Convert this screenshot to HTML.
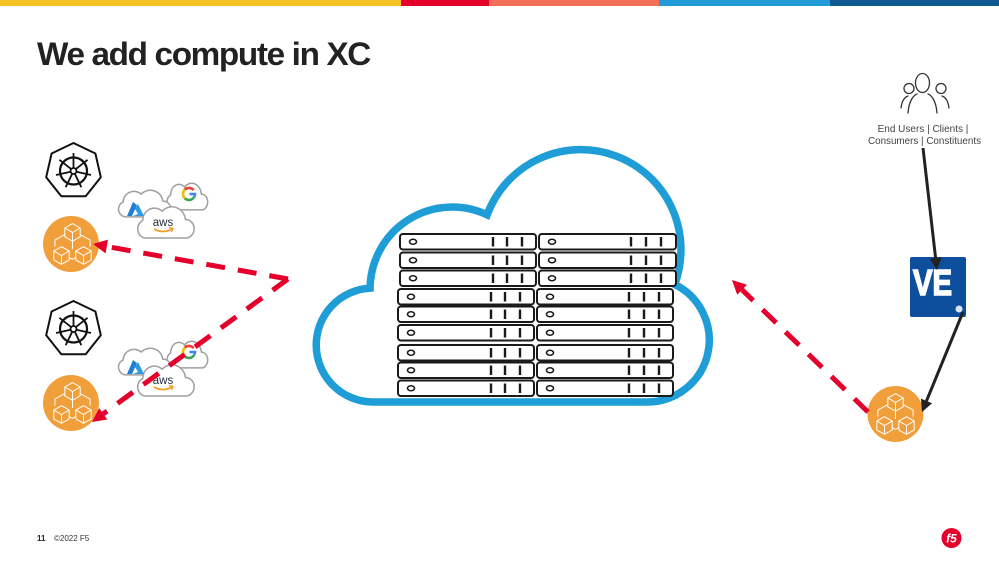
<!DOCTYPE html>
<html>
<head>
<meta charset="utf-8">
<style>
  html,body{margin:0;padding:0;background:#fff;}
  svg{display:block;}
  text{font-family:"Liberation Sans",Arial,sans-serif;}
</style>
</head>
<body>
<svg width="999" height="563" viewBox="0 0 999 563" xmlns="http://www.w3.org/2000/svg">
  <!-- top color bar -->
  <rect x="0" y="0" width="401" height="6" fill="#f5c223"/>
  <rect x="401" y="0" width="88" height="6" fill="#e4002b"/>
  <rect x="489" y="0" width="170" height="6" fill="#f26f55"/>
  <rect x="659" y="0" width="171" height="6" fill="#229cd8"/>
  <rect x="830" y="0" width="169" height="6" fill="#0d5a91"/>

  <!-- title -->
  <text x="37" y="65" font-size="32" font-weight="bold" fill="#222" letter-spacing="-1.3" textLength="333" lengthAdjust="spacingAndGlyphs">We add compute in XC</text>

  <!-- big cloud -->
  <path d="M 647 402 L 372 402 A 57 57 0 0 1 370.1 288.1 A 82 82 0 0 1 487.1 214.9 A 100 100 0 0 1 674.7 284.4 A 62 62 0 0 1 647 402 Z" fill="none" stroke="#1f9dd6" stroke-width="7.5" stroke-linejoin="miter"/>

  <!-- servers -->
  <g fill="#fff" stroke="#1a1a1a" stroke-width="2">
    <g transform="translate(400,234)"><rect width="136" height="15.5" rx="3"/><ellipse cx="13" cy="7.75" rx="3.5" ry="2.5" stroke-width="1.6"/><path d="M93 3V12.5M107 3V12.5M122 3V12.5" stroke-width="2.4"/></g>
    <g transform="translate(400,252.5)"><rect width="136" height="15.5" rx="3"/><ellipse cx="13" cy="7.75" rx="3.5" ry="2.5" stroke-width="1.6"/><path d="M93 3V12.5M107 3V12.5M122 3V12.5" stroke-width="2.4"/></g>
    <g transform="translate(400,270.5)"><rect width="136" height="15.5" rx="3"/><ellipse cx="13" cy="7.75" rx="3.5" ry="2.5" stroke-width="1.6"/><path d="M93 3V12.5M107 3V12.5M122 3V12.5" stroke-width="2.4"/></g>
    <g transform="translate(398,289)"><rect width="136" height="15.5" rx="3"/><ellipse cx="13" cy="7.75" rx="3.5" ry="2.5" stroke-width="1.6"/><path d="M93 3V12.5M107 3V12.5M122 3V12.5" stroke-width="2.4"/></g>
    <g transform="translate(398,306.5)"><rect width="136" height="15.5" rx="3"/><ellipse cx="13" cy="7.75" rx="3.5" ry="2.5" stroke-width="1.6"/><path d="M93 3V12.5M107 3V12.5M122 3V12.5" stroke-width="2.4"/></g>
    <g transform="translate(398,325)"><rect width="136" height="15.5" rx="3"/><ellipse cx="13" cy="7.75" rx="3.5" ry="2.5" stroke-width="1.6"/><path d="M93 3V12.5M107 3V12.5M122 3V12.5" stroke-width="2.4"/></g>
    <g transform="translate(398,345)"><rect width="136" height="15.5" rx="3"/><ellipse cx="13" cy="7.75" rx="3.5" ry="2.5" stroke-width="1.6"/><path d="M93 3V12.5M107 3V12.5M122 3V12.5" stroke-width="2.4"/></g>
    <g transform="translate(398,362.5)"><rect width="136" height="15.5" rx="3"/><ellipse cx="13" cy="7.75" rx="3.5" ry="2.5" stroke-width="1.6"/><path d="M93 3V12.5M107 3V12.5M122 3V12.5" stroke-width="2.4"/></g>
    <g transform="translate(398,380.5)"><rect width="136" height="15.5" rx="3"/><ellipse cx="13" cy="7.75" rx="3.5" ry="2.5" stroke-width="1.6"/><path d="M93 3V12.5M107 3V12.5M122 3V12.5" stroke-width="2.4"/></g>
    <g transform="translate(539,234)"><rect width="137" height="15.5" rx="3"/><ellipse cx="13" cy="7.75" rx="3.5" ry="2.5" stroke-width="1.6"/><path d="M92 3V12.5M107 3V12.5M122 3V12.5" stroke-width="2.4"/></g>
    <g transform="translate(539,252.5)"><rect width="137" height="15.5" rx="3"/><ellipse cx="13" cy="7.75" rx="3.5" ry="2.5" stroke-width="1.6"/><path d="M92 3V12.5M107 3V12.5M122 3V12.5" stroke-width="2.4"/></g>
    <g transform="translate(539,270.5)"><rect width="137" height="15.5" rx="3"/><ellipse cx="13" cy="7.75" rx="3.5" ry="2.5" stroke-width="1.6"/><path d="M92 3V12.5M107 3V12.5M122 3V12.5" stroke-width="2.4"/></g>
    <g transform="translate(537,289)"><rect width="136" height="15.5" rx="3"/><ellipse cx="13" cy="7.75" rx="3.5" ry="2.5" stroke-width="1.6"/><path d="M92 3V12.5M107 3V12.5M122 3V12.5" stroke-width="2.4"/></g>
    <g transform="translate(537,306.5)"><rect width="136" height="15.5" rx="3"/><ellipse cx="13" cy="7.75" rx="3.5" ry="2.5" stroke-width="1.6"/><path d="M92 3V12.5M107 3V12.5M122 3V12.5" stroke-width="2.4"/></g>
    <g transform="translate(537,325)"><rect width="136" height="15.5" rx="3"/><ellipse cx="13" cy="7.75" rx="3.5" ry="2.5" stroke-width="1.6"/><path d="M92 3V12.5M107 3V12.5M122 3V12.5" stroke-width="2.4"/></g>
    <g transform="translate(537,345)"><rect width="136" height="15.5" rx="3"/><ellipse cx="13" cy="7.75" rx="3.5" ry="2.5" stroke-width="1.6"/><path d="M92 3V12.5M107 3V12.5M122 3V12.5" stroke-width="2.4"/></g>
    <g transform="translate(537,362.5)"><rect width="136" height="15.5" rx="3"/><ellipse cx="13" cy="7.75" rx="3.5" ry="2.5" stroke-width="1.6"/><path d="M92 3V12.5M107 3V12.5M122 3V12.5" stroke-width="2.4"/></g>
    <g transform="translate(537,380.5)"><rect width="136" height="15.5" rx="3"/><ellipse cx="13" cy="7.75" rx="3.5" ry="2.5" stroke-width="1.6"/><path d="M92 3V12.5M107 3V12.5M122 3V12.5" stroke-width="2.4"/></g>
  </g>

  <!-- Kubernetes icons -->
  <g transform="translate(73.5,171)" fill="none" stroke="#111" stroke-width="2" stroke-linejoin="round">
    <polygon points="0,-28 21.9,-17.5 27.3,6.2 12.2,25.2 -12.2,25.2 -27.3,6.2 -21.9,-17.5"/>
    <circle r="13.5" stroke-width="2.2"/>
    <circle r="3" stroke-width="1.8"/>
    <path d="M0,-3 L0,-18 M2.3,-1.9 L14.1,-11.2 M2.9,0.7 L17.5,4 M1.3,2.7 L7.8,16.2 M-1.3,2.7 L-7.8,16.2 M-2.9,0.7 L-17.5,4 M-2.3,-1.9 L-14.1,-11.2" stroke-width="1.8"/>
  </g>
  <g transform="translate(73.5,329)" fill="none" stroke="#111" stroke-width="2" stroke-linejoin="round">
    <polygon points="0,-28 21.9,-17.5 27.3,6.2 12.2,25.2 -12.2,25.2 -27.3,6.2 -21.9,-17.5"/>
    <circle r="13.5" stroke-width="2.2"/>
    <circle r="3" stroke-width="1.8"/>
    <path d="M0,-3 L0,-18 M2.3,-1.9 L14.1,-11.2 M2.9,0.7 L17.5,4 M1.3,2.7 L7.8,16.2 M-1.3,2.7 L-7.8,16.2 M-2.9,0.7 L-17.5,4 M-2.3,-1.9 L-14.1,-11.2" stroke-width="1.8"/>
  </g>

  <!-- Orange cube circles -->
  <g transform="translate(71,244)">
    <circle r="28" fill="#f19f3a"/>
    <g fill="none" stroke="#fff" stroke-width="0.9" stroke-linejoin="round" transform="translate(1.5,0.5) scale(1.1)">
      <path d="M0,-19 L7,-15 L7,-7 L0,-3 L-7,-7 L-7,-15 Z M-7,-15 L0,-11 L7,-15 M0,-11 L0,-3"/>
      <path d="M-10,2 L-3,6 L-3,14 L-10,18 L-17,14 L-17,6 Z M-17,6 L-10,10 L-3,6 M-10,10 L-10,18"/>
      <path d="M10,2 L17,6 L17,14 L10,18 L3,14 L3,6 Z M3,6 L10,10 L17,6 M10,10 L10,18"/>
      <path d="M-7,-9 L-16,-4 L-16,2 M7,-9 L16,-4 L16,2 M0,-3 L0,4 M-3,12 L0,13.5 L3,12"/>
    </g>
  </g>
  <g transform="translate(71,403)">
    <circle r="28" fill="#f19f3a"/>
    <g fill="none" stroke="#fff" stroke-width="0.9" stroke-linejoin="round" transform="translate(1.5,0.5) scale(1.1)">
      <path d="M0,-19 L7,-15 L7,-7 L0,-3 L-7,-7 L-7,-15 Z M-7,-15 L0,-11 L7,-15 M0,-11 L0,-3"/>
      <path d="M-10,2 L-3,6 L-3,14 L-10,18 L-17,14 L-17,6 Z M-17,6 L-10,10 L-3,6 M-10,10 L-10,18"/>
      <path d="M10,2 L17,6 L17,14 L10,18 L3,14 L3,6 Z M3,6 L10,10 L17,6 M10,10 L10,18"/>
      <path d="M-7,-9 L-16,-4 L-16,2 M7,-9 L16,-4 L16,2 M0,-3 L0,4 M-3,12 L0,13.5 L3,12"/>
    </g>
  </g>
  <g transform="translate(895.5,414)">
    <circle r="28" fill="#f19f3a"/>
    <g fill="none" stroke="#fff" stroke-width="0.9" stroke-linejoin="round" transform="translate(0,0.5) scale(1.1)">
      <path d="M0,-19 L7,-15 L7,-7 L0,-3 L-7,-7 L-7,-15 Z M-7,-15 L0,-11 L7,-15 M0,-11 L0,-3"/>
      <path d="M-10,2 L-3,6 L-3,14 L-10,18 L-17,14 L-17,6 Z M-17,6 L-10,10 L-3,6 M-10,10 L-10,18"/>
      <path d="M10,2 L17,6 L17,14 L10,18 L3,14 L3,6 Z M3,6 L10,10 L17,6 M10,10 L10,18"/>
      <path d="M-7,-9 L-16,-4 L-16,2 M7,-9 L16,-4 L16,2 M0,-3 L0,4 M-3,12 L0,13.5 L3,12"/>
    </g>
  </g>

  <!-- small cloud clusters -->
  <g>
    <path transform="translate(165,180) scale(0.7,0.88)" d="M10,34 A9,9 0 0 1 8,17 A12,12 0 0 1 28,8 A14,14 0 0 1 52,16 A9,9 0 0 1 52,34 Z" fill="#fff" stroke="#a0a0a0" stroke-width="1.5" vector-effect="non-scaling-stroke"/>
    <path transform="translate(116,187) scale(0.9,0.88)" d="M10,34 A9,9 0 0 1 8,17 A12,12 0 0 1 28,8 A14,14 0 0 1 52,16 A9,9 0 0 1 52,34 Z" fill="#fff" stroke="#a0a0a0" stroke-width="1.5" vector-effect="non-scaling-stroke"/>
    <path transform="translate(135,203) scale(0.97,1.03)" d="M10,34 A9,9 0 0 1 8,17 A12,12 0 0 1 28,8 A14,14 0 0 1 52,16 A9,9 0 0 1 52,34 Z" fill="#fff" stroke="#a0a0a0" stroke-width="1.5" vector-effect="non-scaling-stroke"/>
    <g transform="translate(189,194)" fill="none" stroke-width="2.6">
      <path d="M4.6,-3.9 A6,6 0 0 0 -4.2,-4.3" stroke="#ea4335"/>
      <path d="M-4.2,-4.3 A6,6 0 0 0 -4.2,4.3" stroke="#fbbc05"/>
      <path d="M-4.2,4.3 A6,6 0 0 0 5,3.2" stroke="#34a853"/>
      <path d="M5,3.2 A6,6 0 0 0 6,0 L0.5,0" stroke="#4285f4"/>
    </g>
    <g transform="translate(127,202)">
      <path d="M6,0 L0,14 L5,14 L10,3 Z" fill="#1f7fd4"/>
      <path d="M8,7 L11,12 L6,14 L17,14 L11,2 Z" fill="#2f9ae0"/>
    </g>
    <text x="163" y="226" font-size="11.5" fill="#232f3e" text-anchor="middle">aws</text>
    <path d="M154,229 Q163,234 172,229" fill="none" stroke="#f39a1e" stroke-width="1.6"/>
    <path d="M169,227.5 L173,228.5 L171.5,232" fill="none" stroke="#f39a1e" stroke-width="1.3"/>
  </g>
  <g transform="translate(0,158)">
    <path transform="translate(165,180) scale(0.7,0.88)" d="M10,34 A9,9 0 0 1 8,17 A12,12 0 0 1 28,8 A14,14 0 0 1 52,16 A9,9 0 0 1 52,34 Z" fill="#fff" stroke="#a0a0a0" stroke-width="1.5" vector-effect="non-scaling-stroke"/>
    <path transform="translate(116,187) scale(0.9,0.88)" d="M10,34 A9,9 0 0 1 8,17 A12,12 0 0 1 28,8 A14,14 0 0 1 52,16 A9,9 0 0 1 52,34 Z" fill="#fff" stroke="#a0a0a0" stroke-width="1.5" vector-effect="non-scaling-stroke"/>
    <path transform="translate(135,203) scale(0.97,1.03)" d="M10,34 A9,9 0 0 1 8,17 A12,12 0 0 1 28,8 A14,14 0 0 1 52,16 A9,9 0 0 1 52,34 Z" fill="#fff" stroke="#a0a0a0" stroke-width="1.5" vector-effect="non-scaling-stroke"/>
    <g transform="translate(189,194)" fill="none" stroke-width="2.6">
      <path d="M4.6,-3.9 A6,6 0 0 0 -4.2,-4.3" stroke="#ea4335"/>
      <path d="M-4.2,-4.3 A6,6 0 0 0 -4.2,4.3" stroke="#fbbc05"/>
      <path d="M-4.2,4.3 A6,6 0 0 0 5,3.2" stroke="#34a853"/>
      <path d="M5,3.2 A6,6 0 0 0 6,0 L0.5,0" stroke="#4285f4"/>
    </g>
    <g transform="translate(127,202)">
      <path d="M6,0 L0,14 L5,14 L10,3 Z" fill="#1f7fd4"/>
      <path d="M8,7 L11,12 L6,14 L17,14 L11,2 Z" fill="#2f9ae0"/>
    </g>
    <text x="163" y="226" font-size="11.5" fill="#232f3e" text-anchor="middle">aws</text>
    <path d="M154,229 Q163,234 172,229" fill="none" stroke="#f39a1e" stroke-width="1.6"/>
    <path d="M169,227.5 L173,228.5 L171.5,232" fill="none" stroke="#f39a1e" stroke-width="1.3"/>
  </g>

  <!-- red dashed arrows -->
  <g stroke="#e4002b" stroke-width="5" fill="none" stroke-dasharray="19 13">
    <path d="M288,279 L106.8,246.5"/>
    <path d="M288,279 L103.3,413.8"/>
    <path d="M868,412 L742.1,289.8"/>
  </g>
  <g fill="#e4002b">
    <polygon points="93,244 108,239.6 105.6,253.4"/>
    <polygon points="92,422 107.4,419.5 99.2,408.1"/>
    <polygon points="732,280 747,284.8 737.2,294.8"/>
  </g>

  <!-- people icon -->
  <g fill="none" stroke="#333" stroke-width="1.3" stroke-linecap="round">
    <ellipse cx="922.5" cy="83" rx="7" ry="9.5"/>
    <path d="M908,113 C909,100 914,95 917,94 M937,113 C936,100 931,95 928,94"/>
    <circle cx="909" cy="88.5" r="5"/>
    <path d="M901,108 C902,100 905,97 908,96"/>
    <circle cx="941" cy="88.5" r="5"/>
    <path d="M949,108 C948,100 945,97 942,96"/>
  </g>
  <text x="923" y="132" font-size="10" fill="#444" text-anchor="middle">End Users | Clients |</text>
  <text x="924.5" y="144" font-size="10" fill="#444" text-anchor="middle" textLength="113" lengthAdjust="spacingAndGlyphs">Consumers | Constituents</text>

  <!-- VE box -->
  <rect x="910" y="257" width="56" height="60" rx="2" fill="#0d4f9c"/>
  <text x="913" y="295" font-size="36" font-weight="bold" fill="#fff" stroke="#fff" stroke-width="1.6" textLength="39" lengthAdjust="spacingAndGlyphs">VE</text>
  <circle cx="959" cy="309" r="3.5" fill="#fff" opacity="0.85"/>

  <!-- black arrows -->
  <g stroke="#222" stroke-width="3" fill="none">
    <path d="M923,148 L935.6,258.1"/>
    <path d="M963,312 L926.5,400.9"/>
  </g>
  <g fill="#222">
    <polygon points="937,270 941.6,257.4 929.7,258.8"/>
    <polygon points="922,412 932.1,403.2 921,398.6"/>
  </g>

  <!-- footer -->
  <text x="37" y="541" font-size="8" font-weight="bold" fill="#222">11</text>
  <text x="54" y="541" font-size="8" fill="#333">©2022 F5</text>
  <circle cx="951.5" cy="538" r="10" fill="#e4002b"/>
  <text x="951.5" y="542.5" font-size="12" font-weight="bold" font-style="italic" fill="#fff" text-anchor="middle">f5</text>
</svg>
</body>
</html>
